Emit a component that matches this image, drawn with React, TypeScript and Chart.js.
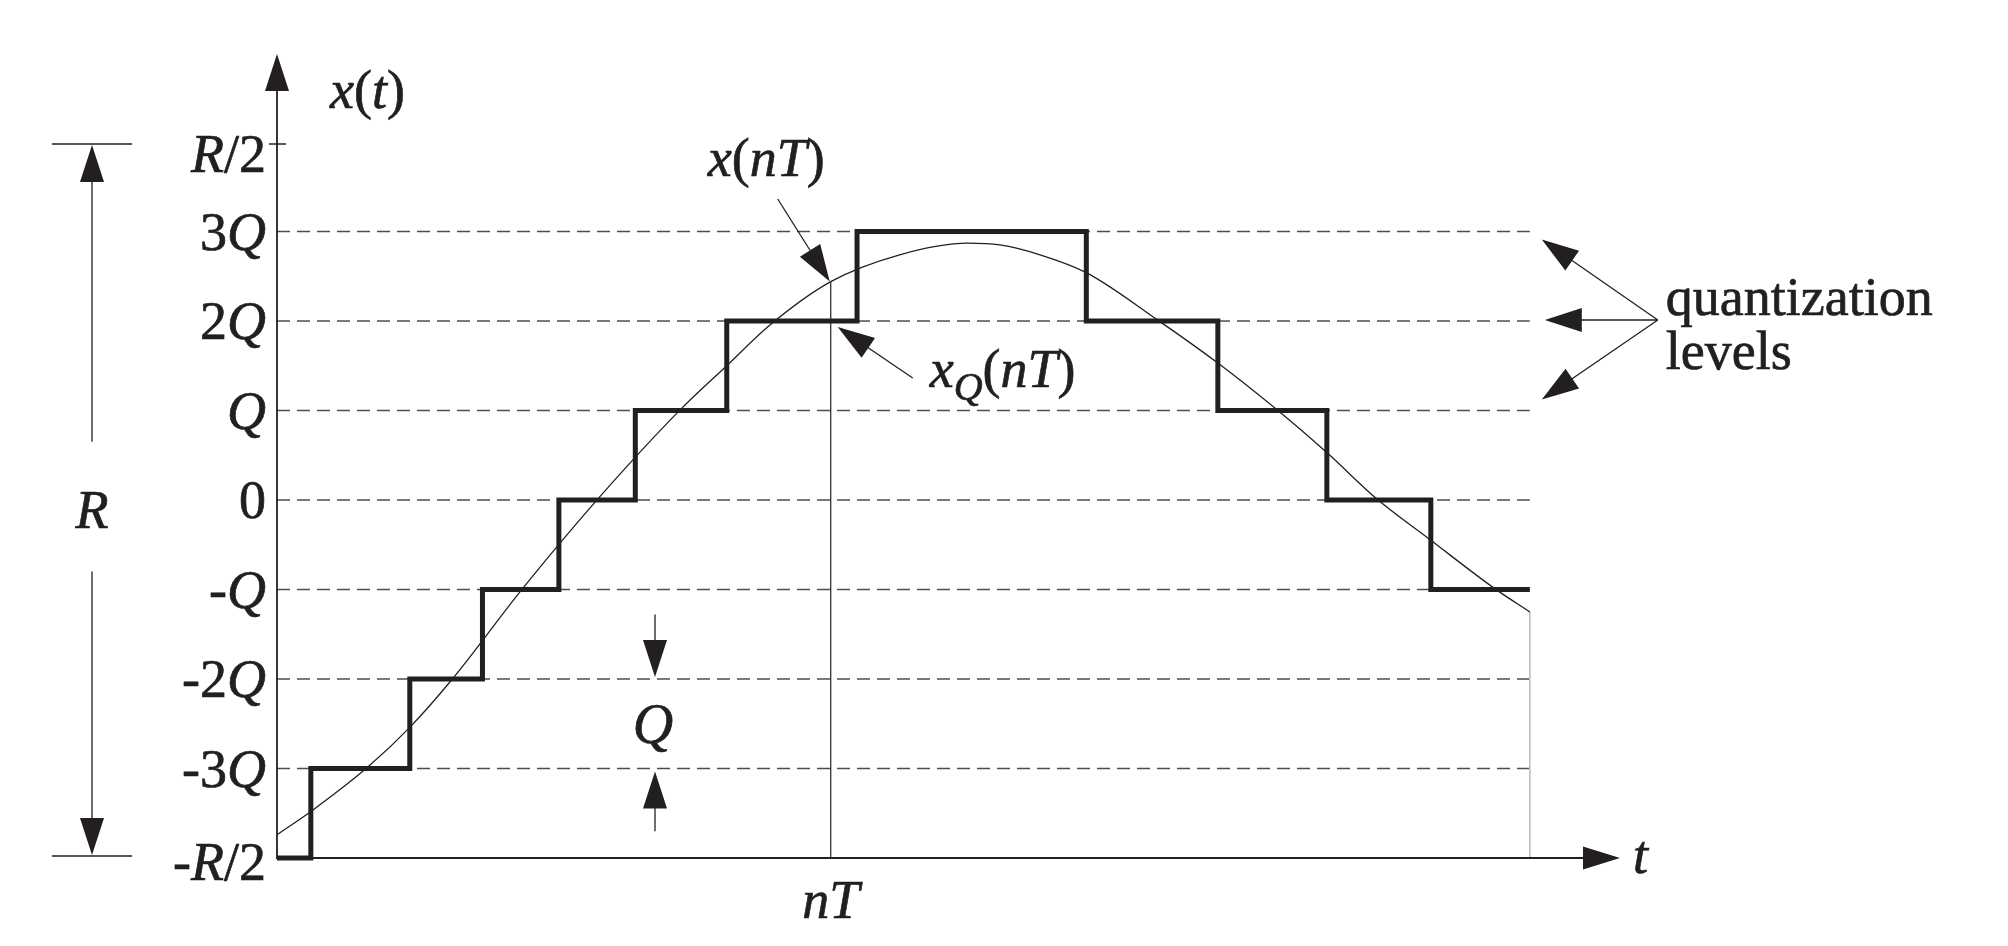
import React, { useEffect, useRef } from "react";
import { Chart, registerables } from "chart.js";

Chart.register(...registerables);

// ---------------- data ----------------
const quantLevels = [-3, -2, -1, 0, 1, 2, 3];
const yTickValues = [-4, -3, -2, -1, 0, 1, 2, 3, 4];
const yTickLabels = ["-R/2", "-3Q", "-2Q", "-Q", "0", "Q", "2Q", "3Q", "R/2"];

// continuous signal x(t) (t in arbitrary units, value in Q)
const signalT = [0, 0.29, 0.72, 1.06, 1.4, 1.96, 2.56, 3.22, 3.59, 3.93, 4.42, 4.97, 5.51, 5.77, 6.09, 6.46, 7.03, 7.51, 7.98, 8.38, 8.78, 9.21, 9.72, 10];
const signalX = [-3.74, -3.46, -2.99, -2.54, -2.0, -0.99, 0.01, 1.01, 1.5, 1.95, 2.44, 2.74, 2.87, 2.85, 2.74, 2.54, 2.01, 1.53, 1.01, 0.53, 0.01, -0.45, -0.99, -1.25];

// quantized staircase xQ(t)
const stepT = [0, 0.27, 1.06, 1.64, 2.25, 2.86, 3.59, 4.63, 6.46, 7.51, 8.38, 9.21, 10];
const stepXQ = [-4, -3, -2, -1, 0, 1, 2, 3, 2, 1, 0, -1, -1];

const sampleT = 4.42; // nT
const sampleX = 2.44; // x(nT)
const tEnd = 10;
const endX = -1.25;
const tAxisMin = 0;
const tAxisMax = 10.72;
const yMin = -4;
const yMax = 4;

// ---------------- drawing helpers ----------------
const FACE = '"Liberation Serif", "Times New Roman", Tinos, "DejaVu Serif", serif';
const INK = "#231f20";
const fnt = (size: number, italic: boolean) => `${italic ? "italic " : ""}${size}px ${FACE}`;

type Seg = { t: string; i?: boolean; s?: number; dy?: number };

function toSegs(label: string): Seg[] {
  const segs: Seg[] = [];
  for (const ch of label) {
    const it = /[A-Za-z]/.test(ch);
    const last = segs[segs.length - 1];
    if (last && !!last.i === it) last.t += ch;
    else segs.push({ t: ch, i: it });
  }
  return segs;
}

function txt(ctx: CanvasRenderingContext2D, s: string, x: number, y: number) {
  ctx.fillText(s, x, y);
  ctx.lineWidth = 0.7;
  ctx.strokeText(s, x, y);
}

function rich(ctx: CanvasRenderingContext2D, segs: Seg[], x: number, y: number, align: "left" | "right" | "center", size: number) {
  const widths = segs.map((sg) => {
    ctx.font = fnt(Math.round(size * (sg.s || 1)), !!sg.i);
    return ctx.measureText(sg.t).width;
  });
  const w = widths.reduce((a, b) => a + b, 0);
  let cx = align === "left" ? x : align === "right" ? x - w : x - w / 2;
  ctx.textAlign = "left";
  ctx.textBaseline = "alphabetic";
  segs.forEach((sg, k) => {
    ctx.font = fnt(Math.round(size * (sg.s || 1)), !!sg.i);
    txt(ctx, sg.t, cx, y + (sg.dy || 0));
    cx += widths[k];
  });
}

function arrow(ctx: CanvasRenderingContext2D, x1: number, y1: number, x2: number, y2: number, lw = 1.3, hl = 37, hw = 24) {
  const dx = x2 - x1;
  const dy = y2 - y1;
  const len = Math.hypot(dx, dy);
  const ux = dx / len;
  const uy = dy / len;
  const bx = x2 - ux * hl;
  const by = y2 - uy * hl;
  ctx.beginPath();
  ctx.lineWidth = lw;
  ctx.moveTo(x1, y1);
  ctx.lineTo(bx + ux * 2, by + uy * 2);
  ctx.stroke();
  ctx.beginPath();
  ctx.moveTo(x2, y2);
  ctx.lineTo(bx - (uy * hw) / 2, by + (ux * hw) / 2);
  ctx.lineTo(bx + (uy * hw) / 2, by - (ux * hw) / 2);
  ctx.closePath();
  ctx.fill();
}

function line(ctx: CanvasRenderingContext2D, x1: number, y1: number, x2: number, y2: number, lw: number) {
  ctx.beginPath();
  ctx.lineWidth = lw;
  ctx.moveTo(x1, y1);
  ctx.lineTo(x2, y2);
  ctx.stroke();
}

const annotations = {
  id: "annotations",
  afterDraw(chart: any) {
    const { ctx } = chart;
    const xs = chart.scales.x;
    const ys = chart.scales.y;
    const X = (v: number) => xs.getPixelForValue(v);
    const Y = (v: number) => ys.getPixelForValue(v);
    const x0 = X(tAxisMin);
    const yb = Y(yMin);
    ctx.save();
    ctx.strokeStyle = INK;
    ctx.fillStyle = INK;
    ctx.lineCap = "butt";

    // axes with arrows
    arrow(ctx, x0, yb + 1, x0, Y(yMax) - 88, 1.8);
    arrow(ctx, x0 - 1, yb, X(tAxisMax), yb, 1.8, 37, 23);
    line(ctx, x0 - 8, Y(yMax) + 2, x0 + 9, Y(yMax) + 2, 1.5);

    // y tick labels
    yTickValues.forEach((v, k) => {
      const off = v === yMax ? 30 : v === yMin ? 22 : 18;
      rich(ctx, toSegs(yTickLabels[k]), x0 - 11, Y(v) + off, "right", 54);
    });

    // axis titles
    rich(ctx, [{ t: "x", i: true }, { t: "(" }, { t: "t", i: true }, { t: ")" }], x0 + 53, Y(yMax) - 34, "left", 54);
    rich(ctx, [{ t: "t", i: true }], X(tAxisMax) + 13, yb + 15, "left", 54);
    rich(ctx, [{ t: "nT", i: true }], X(sampleT), yb + 60, "center", 54);

    // x(nT) annotation
    const px = X(sampleT);
    const py = Y(sampleX);
    rich(ctx, [{ t: "x", i: true }, { t: "(" }, { t: "nT", i: true }, { t: ")" }], px - 123, Y(2) - 145, "left", 54);
    arrow(ctx, px - 53, Y(2) - 122, px - 1, py, 1.3);

    // xQ(nT) annotation
    const qy = Y(2);
    rich(ctx, [{ t: "x", i: true }, { t: "Q", i: true, s: 0.74, dy: 13 }, { t: "(" }, { t: "nT", i: true }, { t: ")" }], px + 99, qy + 66, "left", 54);
    arrow(ctx, px + 82, qy + 57, px + 7, qy + 6, 1.3);

    // quantization levels
    const qx = X(tEnd) + 128;
    const qyc = Y(2) - 1;
    arrow(ctx, qx, qyc, X(tEnd) + 12, Y(3) + 8, 1.3);
    arrow(ctx, qx, qyc, X(tEnd) + 15, qyc, 1.3);
    arrow(ctx, qx, qyc, X(tEnd) + 12, Y(1) - 11, 1.3);
    ctx.font = fnt(54, false);
    ctx.textAlign = "left";
    txt(ctx, "quantization", qx + 8, qyc - 5);
    txt(ctx, "levels", qx + 8, qyc + 49);

    // R dimension
    const rx = 92;
    line(ctx, 52, Y(yMax) + 2, 132, Y(yMax) + 2, 1.3);
    line(ctx, 52, yb - 2, 132, yb - 2, 1.3);
    arrow(ctx, rx, Y(0.65), rx, Y(yMax) + 3, 1.3);
    arrow(ctx, rx, Y(-0.8), rx, yb - 3, 1.3);
    rich(ctx, [{ t: "R", i: true }], rx, Y(0) + 28, "center", 54);

    // Q dimension
    const qdx = 655;
    arrow(ctx, qdx, Y(-1.28), qdx, Y(-2) - 2, 1.3);
    arrow(ctx, qdx, Y(-3.7), qdx, Y(-3) + 3, 1.3);
    rich(ctx, [{ t: "Q", i: true }], qdx - 2, Y(-2.5) + 19, "center", 56);

    ctx.restore();
  },
};

export default function App() {
  const ref = useRef<HTMLCanvasElement | null>(null);

  useEffect(() => {
    document.body.style.margin = "0";
    const canvas = ref.current;
    if (!canvas) return;
    let chart: Chart | null = null;
    let cancelled = false;

    const build = () => {
      if (cancelled) return;
      const levelSets = quantLevels.map((lv) => ({
        label: `level ${lv}`,
        data: [
          { x: tAxisMin, y: lv },
          { x: tEnd, y: lv },
        ],
        borderColor: "#4d4d4f",
        borderWidth: 1.6,
        borderDash: [13, 7],
        pointRadius: 0,
        order: 5,
        clip: false as any,
      }));

      chart = new Chart(canvas, {
        type: "line",
        data: {
          datasets: [
            ...levelSets,
            {
              label: "end",
              data: [
                { x: tEnd, y: yMin },
                { x: tEnd, y: endX },
              ],
              borderColor: "#bdbdbd",
              borderWidth: 1.6,
              pointRadius: 0,
              order: 4,
              clip: false as any,
            },
            {
              label: "nT",
              data: [
                { x: sampleT, y: yMin },
                { x: sampleT, y: sampleX },
              ],
              borderColor: INK,
              borderWidth: 1.2,
              pointRadius: 0,
              order: 3,
              clip: false as any,
            },
            {
              label: "x(t)",
              data: signalT.map((t, k) => ({ x: t, y: signalX[k] })),
              borderColor: INK,
              borderWidth: 1.3,
              pointRadius: 0,
              cubicInterpolationMode: "monotone",
              order: 2,
              clip: false as any,
            },
            {
              label: "xQ(t)",
              data: stepT.map((t, k) => ({ x: t, y: stepXQ[k] })),
              borderColor: INK,
              borderWidth: 5,
              pointRadius: 0,
              stepped: "before",
              borderJoinStyle: "miter",
              borderCapStyle: "butt",
              order: 1,
              clip: false as any,
            },
          ] as any,
        },
        options: {
          responsive: false,
          animation: false,
          devicePixelRatio: 1,
          events: [],
          layout: { padding: { left: 277, right: 388, top: 142, bottom: 88 } },
          plugins: { legend: { display: false }, tooltip: { enabled: false }, title: { display: false } },
          scales: {
            x: { type: "linear", min: tAxisMin, max: tAxisMax, display: false },
            y: { type: "linear", min: yMin, max: yMax, display: false },
          },
        },
        plugins: [annotations],
      });
    };

    const fontsApi: any = (document as any).fonts;
    if (fontsApi && fontsApi.load) {
      Promise.all([
        fontsApi.load(`54px "Liberation Serif"`),
        fontsApi.load(`italic 54px "Liberation Serif"`),
      ])
        .catch(() => null)
        .then(() => build());
    } else {
      build();
    }

    return () => {
      cancelled = true;
      if (chart) chart.destroy();
    };
  }, []);

  return (
    <div style={{ width: 2008, height: 946, background: "#fff" }}>
      <span style={{ position: "absolute", left: -9999, fontFamily: '"Liberation Serif"' }}>
        x <i>Q</i>
      </span>
      <canvas ref={ref} width={2008} height={946} style={{ display: "block" }} />
    </div>
  );
}
